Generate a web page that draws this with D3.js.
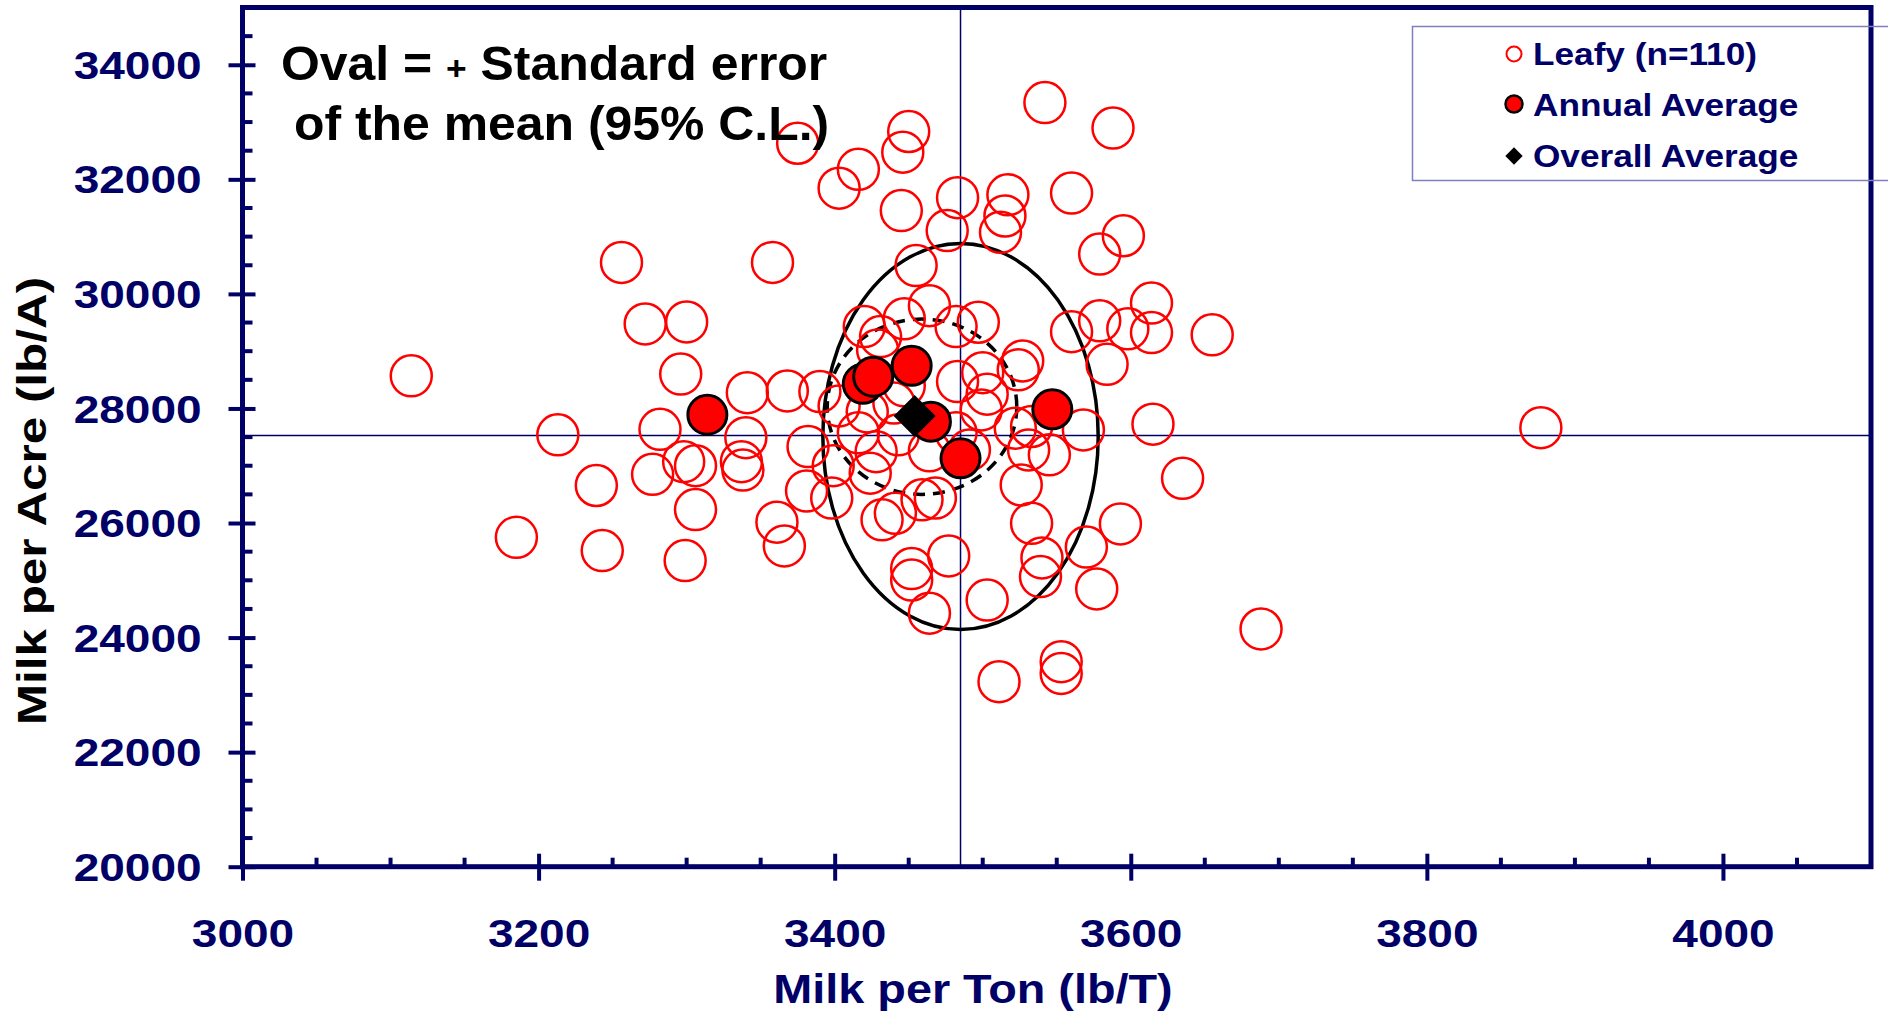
<!DOCTYPE html>
<html>
<head>
<meta charset="utf-8">
<script src="https://cdn.jsdelivr.net/npm/d3@7"></script>
<style>
  body { margin: 0; background: #fff; }
  text { font-family: "Liberation Sans", Arial, sans-serif; font-weight: bold; }
</style>
</head>
<body>
<script>
// Dimensions
var width = 1888,
    height = 1014;
var margin = {top: 7.5, right: 17, bottom: 147.3, left: 242.5};
var navy = "#000066";

// Leafy hybrids (n=110), milk per ton vs milk per acre
var leafyX = [3256,3358,3272,3300,3114,3296,3341,3368,3390,3213,3282,3340,3382,3298,3306,3277,3337,3338,3239,3381,3399,3398,3306,3185,3243,3299,3361,3366,
  3375,3450,3446,3416,3403,3542,3588,3445,3483,3517,3515,3512,3476,3560,3595,3579,3455,3464,3420,3447,3431,3429,3482,3497,3560,3579,3598,3614,3614,3655,3584,3527,3524,3500,3483,3503,3499,3522,3533,3568,3615,3403,3447,3422,3416,3443,3428,3424,3464,3491,3432,3441,3459,3468,3545,3526,3533,3540,3539,3593,3570,3577,3635,3877,3688,3477,3452,3452,3464,3503,3553,3553,3511,3440,3482,3531];
var leafyY = [30550,30550,29475,29510,28570,28600,28275,28305,28295,27540,27635,27490,27335,27070,27000,26850,27070,26925,26655,26560,27000,26435,26235,25750,25520,25345,26015,25600,
  32630,32835,32475,32175,31845,33340,32895,31455,31680,31730,31360,31075,31105,31760,31015,30695,30495,29795,29430,29565,29255,29020,29430,29505,29340,29530,29390,29840,29325,29285,28770,28830,28675,28625,28470,28250,27975,27655,27685,27625,27725,28045,28395,27940,27575,27540,27245,26870,27260,27275,26055,26170,26405,26435,27190,26665,25995,25390,25065,25985,25580,24850,26780,27665,24150,25425,25205,25005,24425,24655,23580,23375,23230,28095,27575,27275];

// Annual averages
var annualX = [3314,3419,3426,3452,3465,3547,3485];
var annualY = [27890,28430,28555,28745,27770,27985,27130];

// Overall average
var overallX = [3454];
var overallY = [27870];

// Mean cross lines
var meanX = 3485, meanY = 27530;

// Ovals: [centerX, centerY, halfWidth, halfHeight]
var ovalOuter = [3485, 27510, 93, 3370];
var ovalInner = [3459, 28030, 64, 1530];

// Ticks
var xTicks = [3000,3200,3400,3600,3800,4000];
var yTicks = [20000,22000,24000,26000,28000,30000,32000,34000];

var x = d3.scaleLinear().domain([3000, 4100]).range([margin.left, width - margin.right]);
var y = d3.scaleLinear().domain([20000, 35000]).range([height - margin.bottom, margin.top]);
var x0 = margin.left, x1 = width - margin.right;
var y0 = height - margin.bottom, y1 = margin.top;

var svg = d3.select("body").append("svg")
    .attr("width", width)
    .attr("height", height);

// cross lines
svg.append("line")
    .attr("x1", x(meanX)).attr("x2", x(meanX))
    .attr("y1", y1).attr("y2", y0)
    .attr("stroke", navy).attr("stroke-width", 1.5);
svg.append("line")
    .attr("x1", x0).attr("x2", x1)
    .attr("y1", y(meanY)).attr("y2", y(meanY))
    .attr("stroke", navy).attr("stroke-width", 1.5);

// ovals
function oval(p, dash) {
  svg.append("ellipse")
      .attr("cx", x(p[0])).attr("cy", y(p[1]))
      .attr("rx", x(p[0] + p[2]) - x(p[0]))
      .attr("ry", y(p[1]) - y(p[1] + p[3]))
      .attr("fill", "none")
      .attr("stroke", "#000")
      .attr("stroke-width", 3.5)
      .attr("stroke-dasharray", dash);
}
oval(ovalOuter, null);
oval(ovalInner, "12,8");

// open circles
svg.append("g").selectAll("circle")
    .data(d3.range(leafyX.length))
    .join("circle")
    .attr("cx", i => x(leafyX[i]))
    .attr("cy", i => y(leafyY[i]))
    .attr("r", 20.5)
    .attr("fill", "none")
    .attr("stroke", "#ff0000")
    .attr("stroke-width", 2.5);

// annual averages
svg.append("g").selectAll("circle")
    .data(d3.range(annualX.length))
    .join("circle")
    .attr("cx", i => x(annualX[i]))
    .attr("cy", i => y(annualY[i]))
    .attr("r", 19.5)
    .attr("fill", "#ff0000")
    .attr("stroke", "#000")
    .attr("stroke-width", 3);

// overall average (diamond)
var diamond = d3.symbol().type(d3.symbolSquare).size(880);
svg.append("g").selectAll("path")
    .data(d3.range(overallX.length))
    .join("path")
    .attr("d", diamond)
    .attr("transform", i => "translate(" + x(overallX[i]) + "," + y(overallY[i]) + ") rotate(45)")
    .attr("fill", "#000");

// frame
svg.append("rect")
    .attr("x", x0).attr("y", y1)
    .attr("width", x1 - x0).attr("height", y0 - y1)
    .attr("fill", "none")
    .attr("stroke", navy)
    .attr("stroke-width", 5);

// minor ticks
var xMinor = d3.range(3050, 4100, 50).filter(v => v % 200 !== 0);
var yMinor = d3.range(20500, 35000, 500).filter(v => v % 2000 !== 0);
svg.append("g").selectAll("line")
    .data(xMinor)
    .join("line")
    .attr("x1", d => x(d)).attr("x2", d => x(d))
    .attr("y1", y0).attr("y2", y0 - 9)
    .attr("stroke", navy).attr("stroke-width", 4);
svg.append("g").selectAll("line")
    .data(yMinor)
    .join("line")
    .attr("x1", x0).attr("x2", x0 + 10)
    .attr("y1", d => y(d)).attr("y2", d => y(d))
    .attr("stroke", navy).attr("stroke-width", 4);

// axes
var gx = svg.append("g")
    .attr("transform", "translate(0," + y0 + ")")
    .call(d3.axisBottom(x).tickValues(xTicks).tickSize(14).tickFormat(d3.format("d")));
gx.select(".domain").remove();
gx.selectAll(".tick line").attr("y1", -13).attr("stroke", navy).attr("stroke-width", 4);
gx.selectAll(".tick text")
    .attr("y", 53).attr("dy", "0.71em")
    .attr("fill", navy)
    .style("font-size", "39px")
    .attr("transform", "scale(1.18,1)");

var gy = svg.append("g")
    .attr("transform", "translate(" + x0 + ",0)")
    .call(d3.axisLeft(y).tickValues(yTicks).tickSize(14).tickFormat(d3.format("d")));
gy.select(".domain").remove();
gy.selectAll(".tick line").attr("x1", 13).attr("stroke", navy).attr("stroke-width", 4);
gy.selectAll(".tick text")
    .attr("x", -34.7).attr("dy", "0.35em")
    .attr("fill", navy)
    .style("font-size", "39px")
    .attr("transform", "scale(1.18,1)");

// axis titles
svg.append("text")
    .attr("transform", "translate(973,1003) scale(1.17,1)")
    .attr("text-anchor", "middle")
    .attr("fill", navy)
    .style("font-size", "40px")
    .text("Milk per Ton (lb/T)");

svg.append("text")
    .attr("transform", "translate(46,501) rotate(-90) scale(1.19,1)")
    .attr("text-anchor", "middle")
    .attr("fill", "#000")
    .style("font-size", "41.5px")
    .text("Milk per Acre (lb/A)");

// note
var note = svg.append("text")
    .attr("transform", "translate(281,80) scale(1.04,1)")
    .attr("fill", "#000")
    .style("font-size", "48px");
note.append("tspan").text("Oval = ");
note.append("tspan").style("font-size", "34px").text("+");
note.append("tspan").text(" Standard error");
svg.append("text")
    .attr("transform", "translate(294,140) scale(1.04,1)")
    .attr("fill", "#000")
    .style("font-size", "48px")
    .text("of the mean (95% C.L.)");

// legend
svg.append("rect")
    .attr("x", 1412.5).attr("y", 26.5)
    .attr("width", 520).attr("height", 154)
    .attr("fill", "none")
    .attr("stroke", "#7f7fbf")
    .attr("stroke-width", 1.5);

var lx = 1514, tx = 1533;
svg.append("circle").attr("cx", lx).attr("cy", 54).attr("r", 7.5)
    .attr("fill", "none").attr("stroke", "#ff0000").attr("stroke-width", 2);
svg.append("circle").attr("cx", lx).attr("cy", 104).attr("r", 8.5)
    .attr("fill", "#ff0000").attr("stroke", "#000").attr("stroke-width", 2.5);
svg.append("path").attr("d", d3.symbol().type(d3.symbolSquare).size(150))
    .attr("transform", "translate(" + lx + ",156) rotate(45)")
    .attr("fill", "#000");

var legendText = ["Leafy (n=110)", "Annual Average", "Overall Average"];
svg.append("g").selectAll("text")
    .data(legendText)
    .join("text")
    .attr("transform", (d, i) => "translate(" + tx + "," + (65 + i * 51) + ") scale(1.1,1)")
    .attr("fill", navy)
    .style("font-size", "32px")
    .text(d => d);
</script>
</body>
</html>
